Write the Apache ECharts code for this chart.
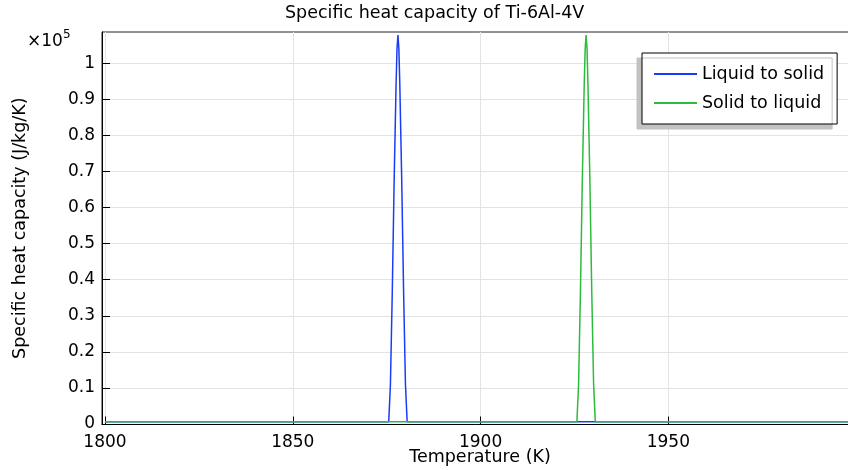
<!DOCTYPE html>
<html>
<head>
<meta charset="utf-8">
<script src="https://cdn.jsdelivr.net/npm/echarts@6/dist/echarts.min.js"></script>
<style>html,body{margin:0;padding:0;background:#fff}#c{width:848px;height:470px}</style>
</head>
<body>
<div id="c"></div>
<script>
// Temperatures (K) and specific heat capacity (J/kg/K)
const tempLiquidToSolid = [1800, 1875.55, 1876, 1876.5, 1877, 1877.5, 1877.75, 1878, 1878.25, 1878.5, 1879, 1879.5, 1880, 1880.45, 2000.5];
const cpLiquidToSolid   = [640,  640,     11000, 37000, 68000, 94000, 104000, 107850, 104000, 94000, 68000, 37000, 11000, 640, 640];
const tempSolidToLiquid = [1800, 1925.65, 1926.1, 1926.6, 1927.1, 1927.6, 1927.85, 1928.1, 1928.35, 1928.6, 1929.1, 1929.6, 1930.1, 1930.55, 2000.5];
const cpSolidToLiquid   = [640,  640,     11000,  37000,  68000,  94000,  104000,  107850, 104000,  94000,  68000,  37000,  11000,  640,     640];
const xTicks = [1800, 1850, 1900, 1950];
const yTicks = [0, 10000, 20000, 30000, 40000, 50000, 60000, 70000, 80000, 90000, 100000];
const seriesNames = ['Liquid to solid', 'Solid to liquid'];

const font = 'DejaVu Sans';
const fs = 17.5;
const chart = echarts.init(document.getElementById('c'), null, {renderer: 'canvas'});
const pairs = (xs, ys) => xs.map((x, i) => [x, ys[i]]);

chart.setOption({
  animation: false,
  backgroundColor: '#fff',
  title: {
    text: 'Specific heat capacity of Ti-6Al-4V',
    left: 285, top: 4, padding: 0,
    textStyle: {fontFamily: font, fontSize: fs, fontWeight: 'normal', color: '#000'}
  },
  grid: {left: 102, right: -10, top: 32, bottom: 45.5, outerBoundsMode: 'none', containLabel: false,
    show: true, borderColor: '#222', borderWidth: 1, backgroundColor: 'transparent'},
  legend: {
    orient: 'vertical', left: 642, top: 53,
    padding: [11, 13, 11, 12], itemGap: 9,
    itemWidth: 43, itemHeight: 2, itemTextGap: 10, icon: 'rect',
    backgroundColor: '#fff', borderColor: '#000', borderWidth: 1,
    shadowColor: '#c2c2c2', shadowBlur: 0, shadowOffsetX: -5, shadowOffsetY: 5,
    textStyle: {fontFamily: font, fontSize: fs, color: '#000', lineHeight: 20},
    data: seriesNames
  },
  xAxis: {
    type: 'value', min: 1799.2, max: 2000.5,
    name: 'Temperature (K)', nameLocation: 'middle', nameGap: 24, nameMoveOverlap: false,
    nameTextStyle: {fontFamily: font, fontSize: fs, color: '#000'},
    axisLine: {onZero: false, lineStyle: {color: '#000', width: 1}},
    axisTick: {inside: true, length: 8, customValues: xTicks, lineStyle: {color: '#000'}},
    axisLabel: {customValues: xTicks, margin: 10, fontFamily: font, fontSize: 17, color: '#000',
      formatter: v => String(v)},
    splitLine: {show: true, lineStyle: {color: '#e3e3e3', width: 1}}
  },
  yAxis: {
    type: 'value', min: -150, max: 108700,
    name: 'Specific heat capacity (J/kg/K)', nameLocation: 'middle', nameGap: 73, nameMoveOverlap: false,
    nameTextStyle: {fontFamily: font, fontSize: fs, color: '#000'},
    axisLine: {onZero: false, lineStyle: {color: '#000', width: 1}},
    axisTick: {inside: true, length: 8, customValues: yTicks, lineStyle: {color: '#000'}},
    axisLabel: {customValues: yTicks, margin: 7, fontFamily: font, fontSize: 17, color: '#000',
      formatter: v => String(parseFloat((v / 1e5).toFixed(1)))},
    splitLine: {show: true, lineStyle: {color: '#e3e3e3', width: 1}}
  },
  graphic: [{
    type: 'text', left: 27, top: 29,
    style: {
      text: '{a|×10}{s|5}',
      rich: {
        a: {fontFamily: font, fontSize: 17, color: '#000', verticalAlign: 'bottom'},
        s: {fontFamily: font, fontSize: 12, color: '#000', verticalAlign: 'top', padding: [0, 0, 9, 0]}
      }
    }
  }],
  series: [
    {name: seriesNames[0], type: 'line', data: pairs(tempLiquidToSolid, cpLiquidToSolid),
     showSymbol: false, symbol: 'none', smooth: false, color: '#1a3cf6',
     lineStyle: {width: 1.5, color: '#1a3cf6'}},
    {name: seriesNames[1], type: 'line', data: pairs(tempSolidToLiquid, cpSolidToLiquid),
     showSymbol: false, symbol: 'none', smooth: false, color: '#2cbb3c',
     lineStyle: {width: 1.5, color: '#2cbb3c'}}
  ]
});
</script>
</body>
</html>
